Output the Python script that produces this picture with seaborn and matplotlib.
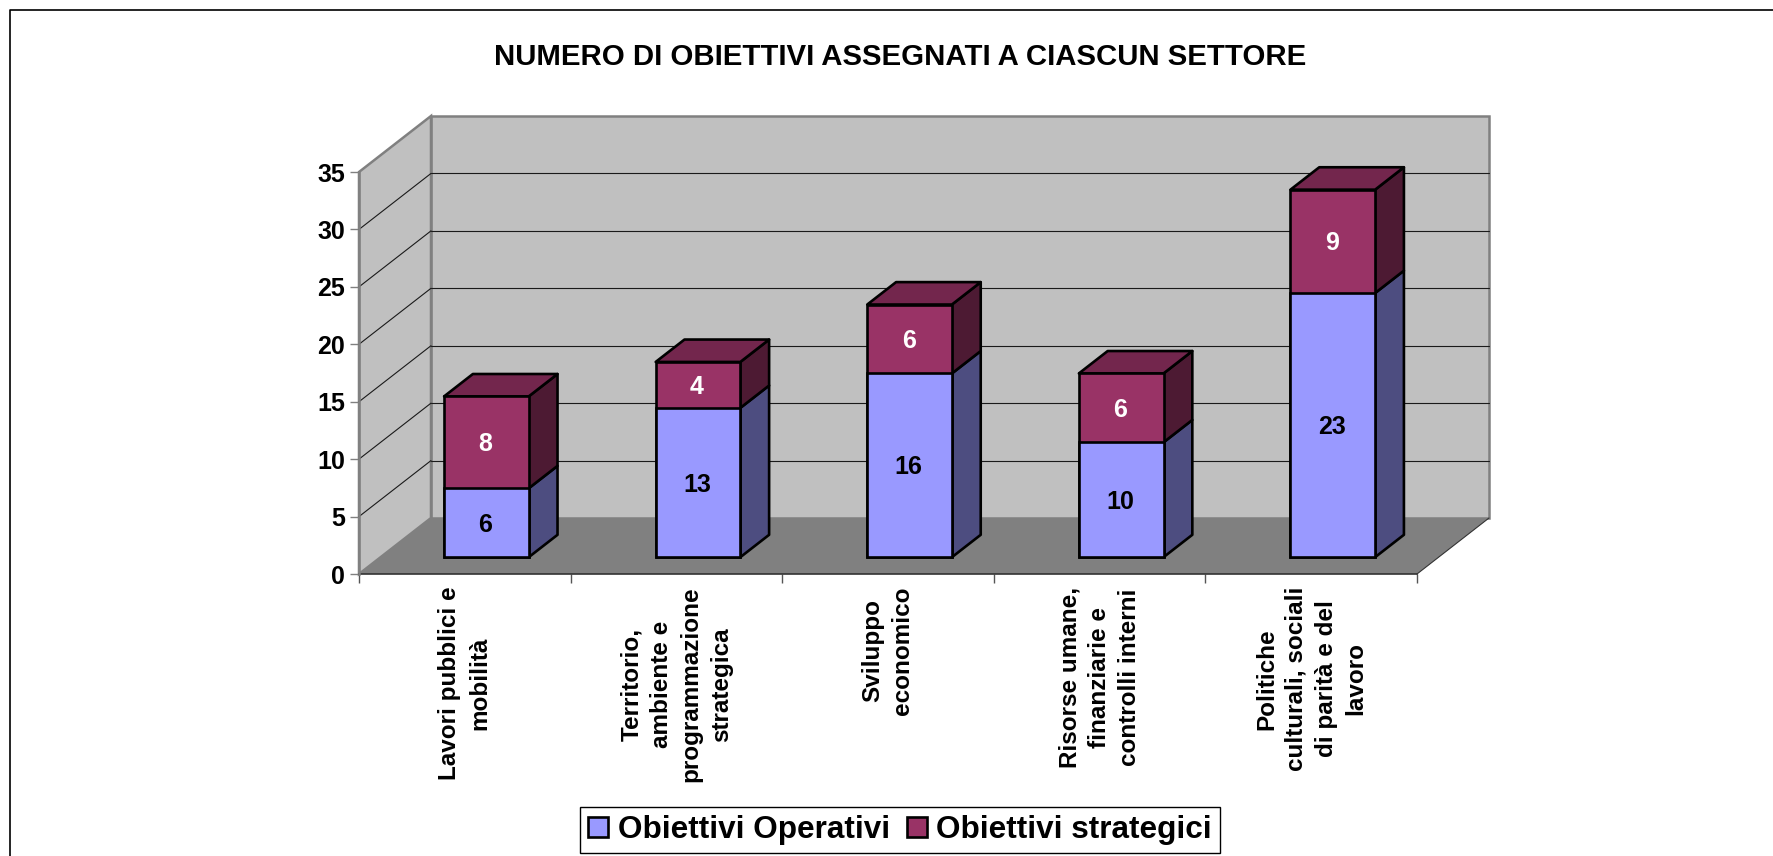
"""Stacked pseudo-3D bar chart of objectives per sector."""

import matplotlib.pyplot as plt
import numpy as np
import seaborn as sns
from matplotlib.lines import Line2D
from matplotlib.patches import Polygon
from matplotlib.transforms import Affine2D, IdentityTransform

CATEGORIES = [
    "Lavori pubblici e\nmobilità",
    "Territorio,\nambiente e\nprogrammazione\nstrategica",
    "Sviluppo\neconomico",
    "Risorse umane,\nfinanziarie e\ncontrolli interni",
    "Politiche\nculturali, sociali\ndi parità e del\nlavoro",
]
OPERATIVI = [6, 13, 16, 10, 23]
STRATEGICI = [8, 4, 6, 6, 9]
Y_TICKS = [0, 5, 10, 15, 20, 25, 30, 35]

W, H = 1774, 856
DEPTH = np.array([72, 56])  # wall offset in pixels
BAR_FRONT, BAR_BACK = 0.3, 0.7

sns.set_theme(style="white")
plt.rcParams["font.family"] = ["Liberation Sans", "DejaVu Sans"]
plt.rcParams["font.weight"] = "bold"
plt.rcParams["text.color"] = "black"

fig = plt.figure(figsize=(W / 100, H / 100), dpi=100, facecolor="white")
ax = fig.add_axes([359 / W, (H - 574) / H, (1417 - 359) / W, (574 - 172) / H])
ax.patch.set_visible(False)

totals = np.add(OPERATIVI, STRATEGICI)
sns.barplot(x=CATEGORIES, y=totals, color="#993366", saturation=1, width=0.4,
            edgecolor="black", linewidth=1.9, label="Obiettivi strategici", ax=ax, zorder=5)
n_top = len(ax.patches)
sns.barplot(x=CATEGORIES, y=OPERATIVI, color="#9999FF", saturation=1, width=0.4,
            edgecolor="black", linewidth=1.9, label="Obiettivi Operativi", ax=ax, zorder=6)
handles, labels = ax.get_legend_handles_labels()
ax.get_legend().remove()
top_bars, low_bars = ax.patches[:n_top], ax.patches[n_top:]
ax.set_xlim(-0.5, 4.5)
ax.set_ylim(0, 35)
px = IdentityTransform()


def project(x, y, depth=0.0):
    """Data position to pixels, pushed back along the oblique depth axis."""
    return ax.transData.transform((x, y)) + depth * DEPTH


def face(points, zorder, **kws):
    ax.add_patch(Polygon(points, closed=True, transform=px, clip_on=False, zorder=zorder, **kws))


# walls and floor
x0, x1 = ax.get_xlim()
wall = dict(facecolor="#C0C0C0", edgecolor="#808080", linewidth=1.8, joinstyle="miter")
face([project(x0, 0, 1), project(x1, 0, 1), project(x1, 35, 1), project(x0, 35, 1)], 0.5, **wall)
face([project(x0, 0), project(x0, 0, 1), project(x0, 35, 1), project(x0, 35)], 0.6, **wall)
face([project(x0, 0), project(x1, 0), project(x1, 0, 1), project(x0, 0, 1)], 0.8,
     facecolor="#808080", edgecolor="none")
for tick in Y_TICKS[1:-1]:
    for a, b in [(project(x0, tick), project(x0, tick, 1)), (project(x0, tick, 1), project(x1, tick, 1))]:
        ax.plot([a[0], b[0]], [a[1], b[1]], color="#1a1a1a", lw=0.8, transform=px, clip_on=False, zorder=0.7)
a, b = project(x1, 0), project(x1, 0, 1)
ax.plot([a[0], b[0]], [a[1], b[1]], color="#333333", lw=0.8, transform=px, clip_on=False, zorder=0.9)

# bars: move the seaborn faces back, add side and top faces
shift = Affine2D().translate(*(BAR_FRONT * DEPTH))
edge = dict(edgecolor="black", linewidth=1.9, joinstyle="round")
for top, low in zip(top_bars, low_bars):
    xr = low.get_x() + low.get_width()
    xl = low.get_x()
    split = low.get_height()
    peak = top.get_height()
    face([project(xr, 0, BAR_FRONT), project(xr, 0, BAR_BACK),
          project(xr, split, BAR_BACK), project(xr, split, BAR_FRONT)], 3, facecolor="#4D4D80", **edge)
    face([project(xr, split, BAR_FRONT), project(xr, split, BAR_BACK),
          project(xr, peak, BAR_BACK), project(xr, peak, BAR_FRONT)], 3, facecolor="#4D1A33", **edge)
    face([project(xl, peak, BAR_FRONT), project(xr, peak, BAR_FRONT),
          project(xr, peak, BAR_BACK), project(xl, peak, BAR_BACK)], 3, facecolor="#73264D", **edge)
    top.set_transform(ax.transData + shift)
    low.set_transform(ax.transData + shift)
    top.set_clip_on(False)
    low.set_clip_on(False)

label_shift = Affine2D().translate(BAR_FRONT * DEPTH[0] - 1, BAR_FRONT * DEPTH[1] - 2)
for i, (low_val, top_val) in enumerate(zip(OPERATIVI, STRATEGICI)):
    ax.text(i, low_val / 2, str(low_val), transform=ax.transData + label_shift, color="black",
            fontsize=18, fontweight="bold", ha="center", va="center", zorder=8)
    ax.text(i, low_val + top_val / 2, str(top_val), transform=ax.transData + label_shift, color="white",
            fontsize=18, fontweight="bold", ha="center", va="center", zorder=8)

# axes
sns.despine(ax=ax, top=True, right=True)
ax.spines["left"].set(color="#808080", linewidth=1.8)
ax.spines["bottom"].set(color="#333333", linewidth=1.2, zorder=2)
ax.set_yticks(Y_TICKS)
ax.set_yticklabels(Y_TICKS, fontsize=18, fontweight="bold", color="black")
ax.tick_params(axis="y", left=True, length=6.5, width=1, color="#808080", pad=3.5)
ax.set_xticks(np.arange(-0.5, 5), minor=True)
ax.tick_params(axis="x", which="minor", bottom=True, length=6.5, width=1, color="#555555")
ax.tick_params(axis="x", which="major", bottom=False, length=0, pad=9)
plt.setp(ax.get_xticklabels(), rotation=90, fontsize=17.5, fontweight="bold", color="black",
         ha="center", va="top", multialignment="center", linespacing=1.38)

fig.text(900 / W, 1 - 57 / H, "NUMERO DI OBIETTIVI ASSEGNATI A CIASCUN SETTORE",
         fontsize=21.2, fontweight="bold", ha="center", va="center", color="black")

leg = fig.legend(handles[::-1], labels[::-1], ncol=2, loc="center", bbox_to_anchor=(900 / W, 1 - 830 / H),
                 frameon=True, fancybox=False, edgecolor="black", framealpha=1, borderpad=0.25,
                 handlelength=0.63, handleheight=0.63, handletextpad=0.3, columnspacing=0.54,
                 labelcolor="black", prop=dict(size=22.7, weight="bold", family="Liberation Sans"))
leg.get_frame().set_linewidth(1)

# outer chart frame runs off the right and bottom of the image
fig.add_artist(Line2D([10 / W, 10 / W, 1], [0, 1 - 10 / H, 1 - 10 / H], transform=fig.transFigure,
                      color="black", linewidth=1.2))

fig.savefig("out.png", dpi=100)
